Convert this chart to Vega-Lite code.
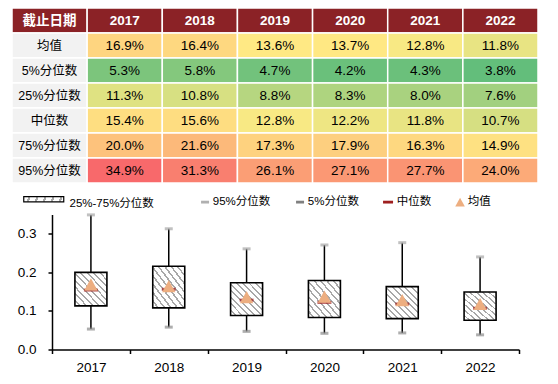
{
  "$schema": "https://vega.github.io/schema/vega-lite/v6.json",
  "padding": {"left": 11, "top": 7, "right": 0, "bottom": 0},
  "spacing": 11.5,
  "config": {"view": {"stroke": null}, "font": "Liberation Sans, Noto Sans CJK SC"},
  "resolve": {"scale": {"color": "independent"}, "legend": {"color": "independent", "shape": "independent", "stroke": "independent"}},
  "datasets": {
    "table": [
      {"r": "截止日期", "c": "label", "t": "截止日期"},
      {"r": "截止日期", "c": "2017", "t": "2017"},
      {"r": "截止日期", "c": "2018", "t": "2018"},
      {"r": "截止日期", "c": "2019", "t": "2019"},
      {"r": "截止日期", "c": "2020", "t": "2020"},
      {"r": "截止日期", "c": "2021", "t": "2021"},
      {"r": "截止日期", "c": "2022", "t": "2022"},
      {"r": "均值", "c": "label", "t": "均值"},
      {"r": "5%分位数", "c": "label", "t": "5%分位数"},
      {"r": "25%分位数", "c": "label", "t": "25%分位数"},
      {"r": "中位数", "c": "label", "t": "中位数"},
      {"r": "75%分位数", "c": "label", "t": "75%分位数"},
      {"r": "95%分位数", "c": "label", "t": "95%分位数"},
      {"r": "均值", "c": "2017", "v": 0.169},
      {"r": "均值", "c": "2018", "v": 0.164},
      {"r": "均值", "c": "2019", "v": 0.136},
      {"r": "均值", "c": "2020", "v": 0.137},
      {"r": "均值", "c": "2021", "v": 0.128},
      {"r": "均值", "c": "2022", "v": 0.118},
      {"r": "5%分位数", "c": "2017", "v": 0.053},
      {"r": "5%分位数", "c": "2018", "v": 0.058},
      {"r": "5%分位数", "c": "2019", "v": 0.047},
      {"r": "5%分位数", "c": "2020", "v": 0.042},
      {"r": "5%分位数", "c": "2021", "v": 0.043},
      {"r": "5%分位数", "c": "2022", "v": 0.038},
      {"r": "25%分位数", "c": "2017", "v": 0.113},
      {"r": "25%分位数", "c": "2018", "v": 0.108},
      {"r": "25%分位数", "c": "2019", "v": 0.088},
      {"r": "25%分位数", "c": "2020", "v": 0.083},
      {"r": "25%分位数", "c": "2021", "v": 0.080},
      {"r": "25%分位数", "c": "2022", "v": 0.076},
      {"r": "中位数", "c": "2017", "v": 0.154},
      {"r": "中位数", "c": "2018", "v": 0.156},
      {"r": "中位数", "c": "2019", "v": 0.128},
      {"r": "中位数", "c": "2020", "v": 0.122},
      {"r": "中位数", "c": "2021", "v": 0.118},
      {"r": "中位数", "c": "2022", "v": 0.107},
      {"r": "75%分位数", "c": "2017", "v": 0.200},
      {"r": "75%分位数", "c": "2018", "v": 0.216},
      {"r": "75%分位数", "c": "2019", "v": 0.173},
      {"r": "75%分位数", "c": "2020", "v": 0.179},
      {"r": "75%分位数", "c": "2021", "v": 0.163},
      {"r": "75%分位数", "c": "2022", "v": 0.149},
      {"r": "95%分位数", "c": "2017", "v": 0.349},
      {"r": "95%分位数", "c": "2018", "v": 0.313},
      {"r": "95%分位数", "c": "2019", "v": 0.261},
      {"r": "95%分位数", "c": "2020", "v": 0.271},
      {"r": "95%分位数", "c": "2021", "v": 0.277},
      {"r": "95%分位数", "c": "2022", "v": 0.240}
    ],
    "box": [
      {"year": "2017", "p5": 0.053, "p25": 0.113, "median": 0.154, "p75": 0.200, "p95": 0.349, "mean": 0.169},
      {"year": "2018", "p5": 0.058, "p25": 0.108, "median": 0.156, "p75": 0.216, "p95": 0.313, "mean": 0.164},
      {"year": "2019", "p5": 0.047, "p25": 0.088, "median": 0.128, "p75": 0.173, "p95": 0.261, "mean": 0.136},
      {"year": "2020", "p5": 0.042, "p25": 0.083, "median": 0.122, "p75": 0.179, "p95": 0.271, "mean": 0.137},
      {"year": "2021", "p5": 0.043, "p25": 0.080, "median": 0.118, "p75": 0.163, "p95": 0.277, "mean": 0.128},
      {"year": "2022", "p5": 0.038, "p25": 0.076, "median": 0.107, "p75": 0.149, "p95": 0.240, "mean": 0.118}
    ]
  },
  "vconcat": [
    {
      "width": 526,
      "height": 175,
      "data": {"name": "table"},
      "encoding": {
        "x": {"field": "c", "type": "nominal", "scale": {"domain": ["label", "2017", "2018", "2019", "2020", "2021", "2022"], "paddingInner": 0, "paddingOuter": 0}, "axis": null},
        "y": {"field": "r", "type": "nominal", "scale": {"domain": ["截止日期", "均值", "5%分位数", "25%分位数", "中位数", "75%分位数", "95%分位数"], "paddingInner": 0, "paddingOuter": 0}, "axis": null}
      },
      "layer": [
        {"transform": [{"filter": "datum.r === '截止日期'"}], "mark": {"type": "rect", "fill": "#8B2226", "stroke": "#ffffff", "strokeWidth": 1.5}},
        {"transform": [{"filter": "datum.c === 'label' && datum.r !== '截止日期'"}], "mark": {"type": "rect", "fill": "#F2F2F2", "stroke": "#ffffff", "strokeWidth": 1.5}},
        {"transform": [{"filter": "isValid(datum.v)"}], "mark": {"type": "rect", "stroke": "#ffffff", "strokeWidth": 1.5},
          "encoding": {"color": {"field": "v", "type": "quantitative", "scale": {"type": "linear", "domain": [0.038, 0.132, 0.349], "range": ["#63BE7B", "#FFEB84", "#F8696B"], "interpolate": "rgb"}, "legend": null}}},
        {"transform": [{"filter": "datum.r === '截止日期'"}], "mark": {"type": "text", "color": "#ffffff", "fontWeight": "bold", "fontSize": 13.5},
          "encoding": {"text": {"field": "t", "type": "nominal"}}},
        {"transform": [{"filter": "datum.c === 'label' && datum.r !== '截止日期'"}], "mark": {"type": "text", "color": "#000000", "fontSize": 12.5},
          "encoding": {"text": {"field": "t", "type": "nominal"}}},
        {"transform": [{"filter": "isValid(datum.v)"}], "mark": {"type": "text", "color": "#000000", "fontSize": 13.5},
          "encoding": {"text": {"field": "v", "type": "quantitative", "format": ".1%"}}}
      ]
    },
    {
      "width": 507,
      "height": 135,
      "data": {"name": "box"},
      "encoding": {
        "x": {"field": "year", "type": "nominal", "scale": {"paddingInner": 0, "paddingOuter": 0, "range": [40, 507]},
          "axis": {"title": null, "labelAngle": 0, "tickBand": "extent", "tickSize": 4, "tickColor": "#000000", "tickWidth": 1.5, "domainColor": "#000000", "domainWidth": 1.5, "labelFontSize": 13.5, "labelColor": "#000000", "labelPadding": 7, "grid": false}}
      },
      "layer": [
        {"mark": {"type": "rule", "color": "#000000", "strokeWidth": 1.5},
          "encoding": {
            "y": {"field": "p5", "type": "quantitative", "scale": {"domain": [0, 0.35], "nice": false},
              "axis": {"title": null, "offset": -40, "values": [0, 0.1, 0.2, 0.3], "format": ".1f", "tickSize": 4, "tickColor": "#000000", "tickWidth": 1.5, "domainColor": "#000000", "domainWidth": 1.5, "labelFontSize": 13.5, "labelColor": "#000000", "labelPadding": 12, "grid": false}},
            "y2": {"field": "p95"}
          }},
        {"mark": {"type": "bar", "width": 32, "strokeWidth": 1.6,
            "fill": {"gradient": "linear", "x1": 0, "y1": 1, "x2": 1, "y2": 0, "stops": [
              {"offset": 0, "color": "#ffffff"}, {"offset": 0.07, "color": "#ffffff"}, {"offset": 0.07, "color": "#a8a8a8"}, {"offset": 0.1, "color": "#a8a8a8"},
              {"offset": 0.1, "color": "#ffffff"}, {"offset": 0.17, "color": "#ffffff"}, {"offset": 0.17, "color": "#a8a8a8"}, {"offset": 0.2, "color": "#a8a8a8"},
              {"offset": 0.2, "color": "#ffffff"}, {"offset": 0.27, "color": "#ffffff"}, {"offset": 0.27, "color": "#a8a8a8"}, {"offset": 0.3, "color": "#a8a8a8"},
              {"offset": 0.3, "color": "#ffffff"}, {"offset": 0.37, "color": "#ffffff"}, {"offset": 0.37, "color": "#a8a8a8"}, {"offset": 0.4, "color": "#a8a8a8"},
              {"offset": 0.4, "color": "#ffffff"}, {"offset": 0.47, "color": "#ffffff"}, {"offset": 0.47, "color": "#a8a8a8"}, {"offset": 0.5, "color": "#a8a8a8"},
              {"offset": 0.5, "color": "#ffffff"}, {"offset": 0.57, "color": "#ffffff"}, {"offset": 0.57, "color": "#a8a8a8"}, {"offset": 0.6, "color": "#a8a8a8"},
              {"offset": 0.6, "color": "#ffffff"}, {"offset": 0.67, "color": "#ffffff"}, {"offset": 0.67, "color": "#a8a8a8"}, {"offset": 0.7, "color": "#a8a8a8"},
              {"offset": 0.7, "color": "#ffffff"}, {"offset": 0.77, "color": "#ffffff"}, {"offset": 0.77, "color": "#a8a8a8"}, {"offset": 0.8, "color": "#a8a8a8"},
              {"offset": 0.8, "color": "#ffffff"}, {"offset": 0.87, "color": "#ffffff"}, {"offset": 0.87, "color": "#a8a8a8"}, {"offset": 0.9, "color": "#a8a8a8"},
              {"offset": 0.9, "color": "#ffffff"}, {"offset": 0.97, "color": "#ffffff"}, {"offset": 0.97, "color": "#a8a8a8"}, {"offset": 1, "color": "#a8a8a8"}
            ]}},
          "encoding": {
            "y": {"field": "p25", "type": "quantitative"},
            "y2": {"field": "p75"},
            "stroke": {"datum": "25%-75%分位数", "type": "nominal", "scale": {"range": ["#000000"]},
              "legend": {"orient": "none", "legendX": 10, "legendY": -16, "padding": 0, "title": null, "direction": "horizontal",
                "symbolType": "M-1,-1.9H9V-0.6H-1Z", "symbolSize": 64, "symbolStrokeWidth": 1.2, "labelOffset": 36,
                "labelFontSize": 11.5, "labelColor": "#000000",
                "encode": {"symbols": {"update": {"stroke": {"value": "#000000"}, "fill": {"value": {"gradient": "linear", "x1": 0, "y1": 0.565, "x2": 1, "y2": 0.435, "stops": [
                  {"offset": 0, "color": "#ffffff"}, {"offset": 0.085, "color": "#ffffff"}, {"offset": 0.085, "color": "#a0a0a0"}, {"offset": 0.125, "color": "#a0a0a0"},
                  {"offset": 0.125, "color": "#ffffff"}, {"offset": 0.21, "color": "#ffffff"}, {"offset": 0.21, "color": "#a0a0a0"}, {"offset": 0.25, "color": "#a0a0a0"},
                  {"offset": 0.25, "color": "#ffffff"}, {"offset": 0.335, "color": "#ffffff"}, {"offset": 0.335, "color": "#a0a0a0"}, {"offset": 0.375, "color": "#a0a0a0"},
                  {"offset": 0.375, "color": "#ffffff"}, {"offset": 0.46, "color": "#ffffff"}, {"offset": 0.46, "color": "#a0a0a0"}, {"offset": 0.5, "color": "#a0a0a0"},
                  {"offset": 0.5, "color": "#ffffff"}, {"offset": 0.585, "color": "#ffffff"}, {"offset": 0.585, "color": "#a0a0a0"}, {"offset": 0.625, "color": "#a0a0a0"},
                  {"offset": 0.625, "color": "#ffffff"}, {"offset": 0.71, "color": "#ffffff"}, {"offset": 0.71, "color": "#a0a0a0"}, {"offset": 0.75, "color": "#a0a0a0"},
                  {"offset": 0.75, "color": "#ffffff"}, {"offset": 0.835, "color": "#ffffff"}, {"offset": 0.835, "color": "#a0a0a0"}, {"offset": 0.875, "color": "#a0a0a0"},
                  {"offset": 0.875, "color": "#ffffff"}, {"offset": 0.96, "color": "#ffffff"}, {"offset": 0.96, "color": "#a0a0a0"}, {"offset": 1, "color": "#a0a0a0"}
                ]}}}}}
              }}
          }},
        {"mark": {"type": "tick", "color": "#A6A6A6", "size": 8, "thickness": 3}, "encoding": {"y": {"field": "p95", "type": "quantitative"}}},
        {"mark": {"type": "tick", "color": "#8C8C8C", "size": 8, "thickness": 3}, "encoding": {"y": {"field": "p5", "type": "quantitative"}}},
        {"mark": {"type": "tick", "color": "#9E1F1F", "size": 14, "thickness": 3}, "encoding": {"y": {"field": "median", "type": "quantitative"}}},
        {"mark": {"type": "point", "size": 123, "filled": true, "opacity": 1, "strokeWidth": 0},
          "encoding": {
            "y": {"field": "mean", "type": "quantitative"},
            "color": {"datum": "均值", "type": "nominal",
              "scale": {"domain": ["95%分位数", "5%分位数", "中位数", "均值"], "range": ["#B0B0B0", "#808080", "#9E1F1F", "#EDAE80"]},
              "legend": {"orient": "none", "legendX": 187.3, "legendY": -18.5, "padding": 0, "title": null, "direction": "horizontal", "columns": 4,
                "symbolSize": 64, "symbolStrokeWidth": 0, "labelOffset": 2, "columnPadding": 23,
                "labelFontSize": 11.5, "labelColor": "#000000"}},
            "shape": {"datum": "均值", "type": "nominal",
              "scale": {"domain": ["95%分位数", "5%分位数", "中位数", "均值"], "range": ["M-1,-0.35H1V0.35H-1Z", "M-1,-0.35H1V0.35H-1Z", "M-1.5,-0.35H1V0.35H-1.5Z", "M0,-1.1L1.2,1.1L-1.2,1.1Z"]},
              "legend": {"orient": "none", "legendX": 187.3, "legendY": -18.5, "padding": 0, "title": null, "direction": "horizontal", "columns": 4,
                "symbolSize": 64, "symbolStrokeWidth": 0, "labelOffset": 2, "columnPadding": 23,
                "labelFontSize": 11.5, "labelColor": "#000000"}}
          }}
      ]
    }
  ]
}
